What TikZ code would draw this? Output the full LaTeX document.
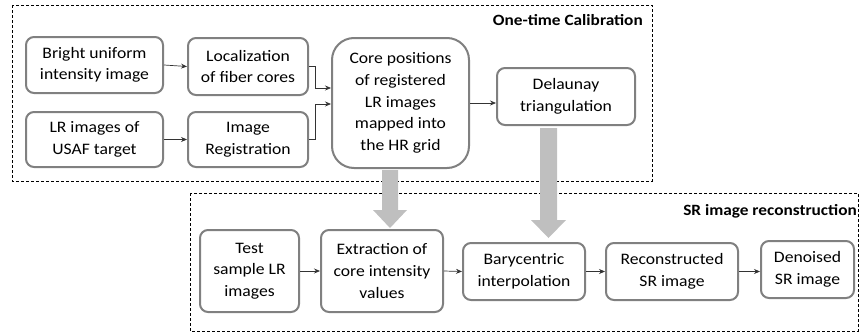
\documentclass[tikz,border=0pt]{standalone}
\usepackage{fontspec}
\setmainfont{Carlito}[FakeStretch=1.1]
\usetikzlibrary{arrows.meta,calc}
\begin{document}
\begin{tikzpicture}[x=1pt,y=-1pt,
  box/.style={draw=black!50, line width=2pt, rounded corners=8pt, fill=white,
    align=center, inner sep=0pt, font=\fontsize{16}{21.6}\selectfont},
  frame/.style={draw=black, line width=0.8pt, dash pattern=on 3pt off 2pt},
  conn/.style={draw=black!80, line width=0.7pt, -{Stealth[length=6pt,width=5pt]}},
  bigarrow/.style={fill=black!25, draw=none},
  title/.style={font=\fontsize{15.7}{18}\selectfont\bfseries, anchor=east, inner sep=0pt}
]
\useasboundingbox (0,0) rectangle (863,335);
% frames
\draw[frame] (12,5) rectangle (652,181);
\draw[frame] (190,193) rectangle (858,331);
\node[title] (t1) at (643,20) {One-time Calibration};
\node[title] (t2) at (857,211) {SR image reconstruction};
% top boxes
\node[box, minimum width=137pt, minimum height=56pt] (b1) at (94.5,65) {Bright uniform\\intensity image};
\node[box, minimum width=120pt, minimum height=57pt] (b2) at (248,66.5) {Localization\\of fiber cores};
\node[box, minimum width=137pt, minimum height=55pt] (b3) at (94.5,139.5) {LR images of\\USAF target};
\node[box, minimum width=120pt, minimum height=55pt] (b4) at (248,139.5) {Image\\Registration};
\node[box, minimum width=137pt, minimum height=130pt, rounded corners=22pt] (b5) at (400.5,103) {Core positions\\of registered\\LR images\\mapped into\\the HR grid};
\node[box, minimum width=138pt, minimum height=57pt] (b6) at (566,96.5) {Delaunay\\triangulation};
% bottom boxes
\node[box, minimum width=99pt, minimum height=82pt] (b7) at (249.5,271) {Test\\sample LR\\images};
\node[box, minimum width=122pt, minimum height=82pt] (b8) at (382,271) {Extraction of\\core intensity\\values};
\node[box, minimum width=122pt, minimum height=57pt] (b9) at (524,271.5) {Barycentric\\interpolation};
\node[box, minimum width=132pt, minimum height=57pt] (b10) at (672,271.5) {Reconstructed\\SR image};
\node[box, minimum width=93pt, minimum height=57pt] (b11) at (807.5,269.5) {Denoised\\SR image};
% thin connectors
\draw[conn] (b1.east) -- (b2.west);
\draw[conn] (b3.east) -- (b4.west);
\draw[conn] (b2.east) -- ++(6,0) |- ($(b5.west)+(0,-15)$);
\draw[conn] (b4.east) -- ++(6,0) |- ($(b5.west)+(0,1)$);
\draw[conn] (b5.east) -- (b6.west |- b5.east);
\draw[conn] (b7.east) -- (b8.west);
\draw[conn] (b8.east) -- (b9.west);
\draw[conn] (b9.east) -- (b10.west);
\draw[conn] (b10.east) -- (b11.west |- b10.east);
% big arrows
\fill[bigarrow] (382,170) -- (398,170) -- (398,210) -- (407,210) -- (390,228) -- (373,210) -- (382,210) -- cycle;
\fill[bigarrow] (540,128) -- (557,128) -- (557,220) -- (566,220) -- (548.5,238) -- (531,220) -- (540,220) -- cycle;
\end{tikzpicture}
\end{document}
